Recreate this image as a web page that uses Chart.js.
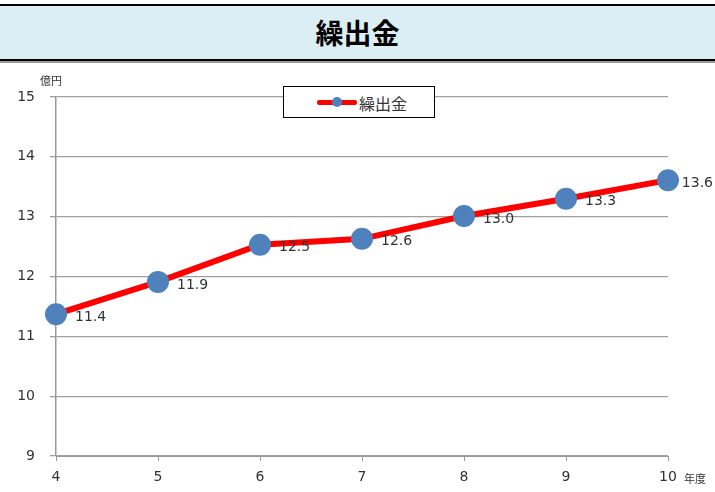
<!DOCTYPE html>
<html lang="ja">
<head>
    <meta charset="UTF-8">
    <title>繰出金</title>
    <script src="https://cdn.jsdelivr.net/npm/chart.js"></script>
    <style>
        body { margin: 0; width: 715px; height: 492px; position: relative; background: #fff; overflow: hidden;
               font-family: "DejaVu Sans", "Noto Sans CJK JP", sans-serif; }
        #banner { position: absolute; left: 0; top: 4px; width: 715px; height: 53px; background: #daeef3;
                  border-top: 2px solid #000; border-bottom: 2px solid #000; }
        #banner2 { position: absolute; left: 0; top: 61px; width: 715px; height: 2px; background: #999; }
        #banner h1 { margin: 0; text-align: center; line-height: 53px; font-size: 28px; font-weight: bold;
                     font-family: "Noto Sans CJK JP", sans-serif; color: #000; }
        canvas { position: absolute; left: 0; top: 0; }
        #legend { position: absolute; left: 283px; top: 86px; width: 150px; height: 30px; background: #fff;
                  border: 1px solid #000; }
        #legend .line { position: absolute; left: 33px; top: 13px; width: 40px; height: 5px; background: #ff0000; border-radius: 2px; }
        #legend .dot { position: absolute; left: 48px; top: 10px; width: 10px; height: 10px; border-radius: 50%; background: #4f81bd; }
        #legend .txt { position: absolute; left: 75px; top: 4px; font-size: 16px; font-family: "Noto Sans CJK JP", sans-serif; color: #333; }
        .unit { position: absolute; font-size: 11px; font-family: "Noto Sans CJK JP", sans-serif; color: #333; }
    </style>
</head>
<body>
    <div id="banner"><h1>繰出金</h1></div>
    <div id="banner2"></div>
    <canvas id="chart" width="715" height="492"></canvas>
    <div id="legend"><div class="line"></div><div class="dot"></div><div class="txt">繰出金</div></div>
    <div class="unit" style="left:40px; top:72px;">億円</div>
    <div class="unit" style="left:684px; top:470px;">年度</div>

    <script>
        const years = ['4', '5', '6', '7', '8', '9', '10'];
        const payouts = [11.37, 11.91, 12.53, 12.63, 13.01, 13.30, 13.61];
        const yMin = 9;
        const yMax = 15;

        // value labels to the right of each point, kept inside the canvas
        const valueLabels = {
            id: 'valueLabels',
            afterDatasetsDraw(chart) {
                const ctx = chart.ctx;
                const meta = chart.getDatasetMeta(0);
                ctx.save();
                ctx.font = '14px "DejaVu Sans", sans-serif';
                ctx.fillStyle = '#333';
                ctx.textAlign = 'left';
                ctx.textBaseline = 'middle';
                meta.data.forEach((pt, i) => {
                    const txt = payouts[i].toFixed(1);
                    const w = ctx.measureText(txt).width;
                    const x = Math.min(pt.x + 19, chart.width - w - 2);
                    ctx.fillText(txt, x, pt.y + 3);
                });
                ctx.restore();
            }
        };

        const ctx = document.getElementById('chart').getContext('2d');
        new Chart(ctx, {
            type: 'line',
            data: {
                labels: years,
                datasets: [{
                    label: '繰出金',
                    data: payouts,
                    borderColor: '#ff0000',
                    borderWidth: 6,
                    pointBackgroundColor: '#4f81bd',
                    pointBorderColor: '#4f81bd',
                    pointRadius: 8,
                    tension: 0,
                    fill: false
                }]
            },
            options: {
                responsive: false,
                animation: false,
                layout: { padding: { left: 0, right: 47, top: 97, bottom: 0 } },
                plugins: { legend: { display: false }, tooltip: { enabled: false } },
                scales: {
                    x: {
                        offset: false,
                        afterFit: s => { s.height = 36; },
                        grid: { drawOnChartArea: false, drawTicks: true, tickLength: 5, color: '#999' },
                        border: { color: '#999' },
                        ticks: { padding: 8, color: '#333', font: { size: 14, family: '"DejaVu Sans", sans-serif' } }
                    },
                    y: {
                        min: yMin,
                        max: yMax,
                        afterFit: s => { s.width = 56; },
                        grid: { color: '#a0a0a0', lineWidth: 1.3, tickLength: 6 },
                        border: { color: '#999', width: 1.5 },
                        ticks: { stepSize: 1, padding: 15, color: '#333', font: { size: 14, family: '"DejaVu Sans", sans-serif' } }
                    }
                }
            },
            plugins: [valueLabels]
        });
    </script>
</body>
</html>
